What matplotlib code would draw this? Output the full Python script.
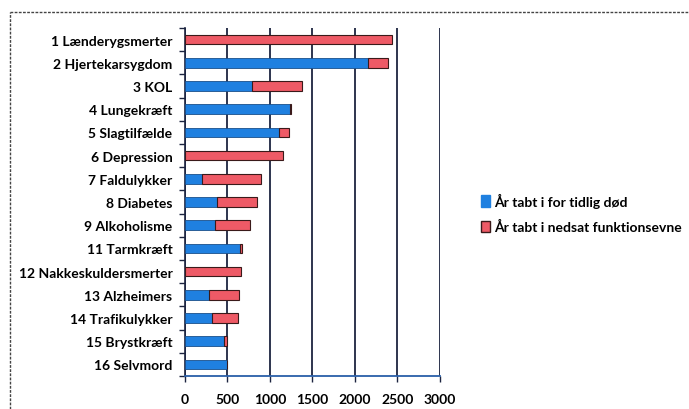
import numpy as np
import matplotlib.pyplot as plt
from matplotlib.lines import Line2D
from matplotlib.patches import Patch

plt.rcParams['font.family'] = ['Lato', 'DejaVu Sans']

categories = ['1 Lænderygsmerter', '2 Hjertekarsygdom', '3 KOL', '4 Lungekræft',
              '5 Slagtilfælde', '6 Depression', '7 Faldulykker', '8 Diabetes',
              '9 Alkoholisme', '11 Tarmkræft', '12 Nakkeskuldersmerter',
              '13 Alzheimers', '14 Trafikulykker', '15 Brystkræft', '16 Selvmord']
# years lost to early death / to reduced function
doed = [0, 2150, 790, 1240, 1110, 0, 200, 380, 350, 645, 0, 285, 320, 460, 495]
funktion = [2430, 240, 590, 10, 115, 1150, 695, 470, 420, 25, 655, 350, 305, 35, 0]
xticks = [0, 500, 1000, 1500, 2000, 2500, 3000]

blue = '#1f80e0'
red = '#ee5a66'
grid_col = '#1c2440'

fig = plt.figure(figsize=(6.89, 4.10), dpi=100)
ax = fig.add_axes([0.2685, 0.0805, 0.3701, 0.8488])

y = np.arange(len(categories))
ax.barh(y, doed, height=0.42, color=blue, edgecolor='#1a4f8a', linewidth=0.6, zorder=3)
ax.barh(y, funktion, left=doed, height=0.42, color=red, edgecolor='#3a1a1a',
        linewidth=0.8, zorder=3)

ax.set_xlim(0, 3000)
ax.set_ylim(len(categories) - 0.5, -0.5)
ax.set_xticks(xticks)
ax.set_xticklabels([str(t) for t in xticks], fontsize=10, fontweight='bold')
ax.set_yticks(y)
ax.set_yticklabels(categories, fontsize=10, fontweight='bold')
ax.tick_params(axis='y', which='major', length=0, pad=9)
ax.set_yticks(np.arange(-0.5, len(categories)), minor=True)
ax.tick_params(axis='y', which='minor', length=4, width=1, color=grid_col)
ax.tick_params(axis='x', length=4, width=1, color=grid_col, pad=8)

ax.xaxis.grid(True, color=grid_col, linewidth=1.3, zorder=1)
ax.set_axisbelow(True)
for s in ['top', 'right']:
    ax.spines[s].set_visible(False)
ax.spines['left'].set_color(grid_col)
ax.spines['left'].set_linewidth(1.2)
ax.spines['bottom'].set_color('#2a5fa8')
ax.spines['bottom'].set_linewidth(1.3)

# dashed frame around the chart area
fig.add_artist(Line2D([10 / 689, 1.0], [1 - 13 / 410, 1 - 13 / 410], color='#444444',
                      linestyle=(0, (2, 1)), linewidth=1, transform=fig.transFigure))
fig.add_artist(Line2D([10 / 689, 10 / 689], [0.0, 1 - 13 / 410], color='#444444',
                      linestyle=(0, (2, 1)), linewidth=1, transform=fig.transFigure))

handles = [Patch(facecolor=blue, edgecolor=blue), Patch(facecolor=red, edgecolor='#3a1a1a')]
fig.legend(handles, ['År tabt i for tidlig død', 'År tabt i nedsat funktionsevne'],
           loc='upper left', bbox_to_anchor=(468 / 689, 1 - 181 / 410), frameon=False,
           prop={'size': 10, 'weight': 'bold'}, handlelength=0.7, handleheight=0.9,
           handletextpad=0.3, labelspacing=0.9)

fig.savefig('out.png', dpi=100)
